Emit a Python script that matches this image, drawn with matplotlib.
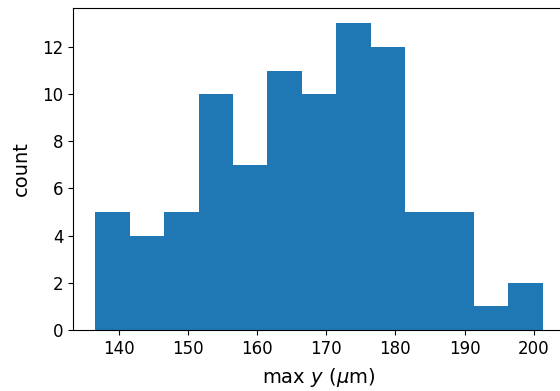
import matplotlib
matplotlib.use("Agg")
from matplotlib import pyplot as plt
import numpy as np

# histogram of max y positions
bin_lo = 136.6
bin_hi = 201.3
counts = [5, 4, 5, 10, 7, 11, 10, 13, 12, 5, 5, 1, 2]
edges = np.linspace(bin_lo, bin_hi, len(counts) + 1)

fig = plt.figure(figsize=(5.6, 3.91), dpi=100)
ax = fig.add_axes([73 / 560, 61 / 391, 492 / 560, 322 / 391])
ax.hist(edges[:-1], bins=edges, weights=counts, color='#1f77b4')
ax.tick_params(labelsize=12)
ax.set_xticks([140, 150, 160, 170, 180, 190, 200])
ax.set_xlabel(r'max $y$ ($\mu$m)', fontsize=14, labelpad=6)
ax.set_ylabel('count', fontsize=14, labelpad=8)
fig.savefig('out.png', dpi=100)
